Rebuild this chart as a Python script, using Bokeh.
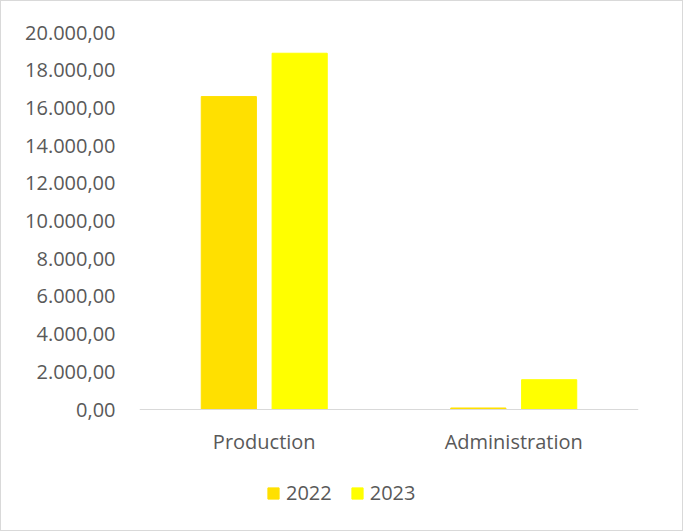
from bokeh.plotting import figure
from bokeh.models import ColumnDataSource, FactorRange, Range1d, Legend, LegendItem, CustomJSTickFormatter, FixedTicker
from bokeh.transform import dodge
from bokeh.embed import file_html
from bokeh.resources import INLINE

categories = ["Production", "Administration"]
years = ["2022", "2023"]
values_2022 = [16600, 80]
values_2023 = [18900, 1580]
y_ticks = [0, 2000, 4000, 6000, 8000, 10000, 12000, 14000, 16000, 18000, 20000]

colors = {"2022": "#FFE000", "2023": "#FFFF00"}
FONT = "Open Sans"
TXT = "#595959"

# layout: value axis spans 377 px (0 -> 20000); frame extends 113 px below zero for labels/legend
AXIS_PX = 377
BELOW_PX = 113
y_start = -20000 * BELOW_PX / AXIS_PX

source = ColumnDataSource(data=dict(cat=categories, y2022=values_2022, y2023=values_2023))

p = figure(x_range=FactorRange(*categories), y_range=Range1d(y_start, 20000),
           width=683, height=531, output_backend="svg", toolbar_location=None,
           min_border_left=138, min_border_right=46, min_border_top=31, min_border_bottom=10)
p.styles = {"border": "1px solid #d9d9d9", "box-sizing": "border-box"}

r1 = p.vbar(x=dodge("cat", -0.142, range=p.x_range), top="y2022", width=0.221, source=source,
            fill_color=colors["2022"], line_color=colors["2022"])
r2 = p.vbar(x=dodge("cat", 0.142, range=p.x_range), top="y2023", width=0.221, source=source,
            fill_color=colors["2023"], line_color=colors["2023"])

p.outline_line_color = None
p.xgrid.grid_line_color = None
p.ygrid.grid_line_color = None

p.yaxis.ticker = FixedTicker(ticks=y_ticks)
p.yaxis.formatter = CustomJSTickFormatter(code="""
const s = tick.toFixed(2);
const parts = s.split('.');
return parts[0].replace(/\\B(?=(\\d{3})+(?!\\d))/g, '.') + ',' + parts[1];
""")
p.yaxis.axis_line_color = None
p.yaxis.major_tick_line_color = None
p.yaxis.minor_tick_line_color = None
p.yaxis.major_label_text_font = FONT
p.yaxis.major_label_text_font_size = "20px"
p.yaxis.major_label_text_color = TXT
p.yaxis.major_label_standoff = 18

p.xaxis.fixed_location = 0
p.xaxis.axis_line_color = "#d9d9d9"
p.xaxis.axis_line_width = 1
p.xaxis.major_tick_line_color = None
p.xaxis.minor_tick_line_color = None
p.xaxis.major_label_text_font = FONT
p.xaxis.major_label_text_font_size = "20px"
p.xaxis.major_label_text_color = TXT
p.xaxis.major_label_standoff = 12

legend = Legend(items=[LegendItem(label="2022", renderers=[r1]), LegendItem(label="2023", renderers=[r2])],
                orientation="horizontal", location=(127, 16))
legend.border_line_color = None
legend.background_fill_alpha = 0
legend.padding = 0
legend.margin = 0
legend.spacing = 18
legend.glyph_width = 14
legend.glyph_height = 14
legend.label_standoff = 6
legend.label_text_font = FONT
legend.label_text_font_size = "20px"
legend.label_text_color = TXT
p.add_layout(legend, "center")

open("out.html", "w").write(file_html(p, INLINE))
